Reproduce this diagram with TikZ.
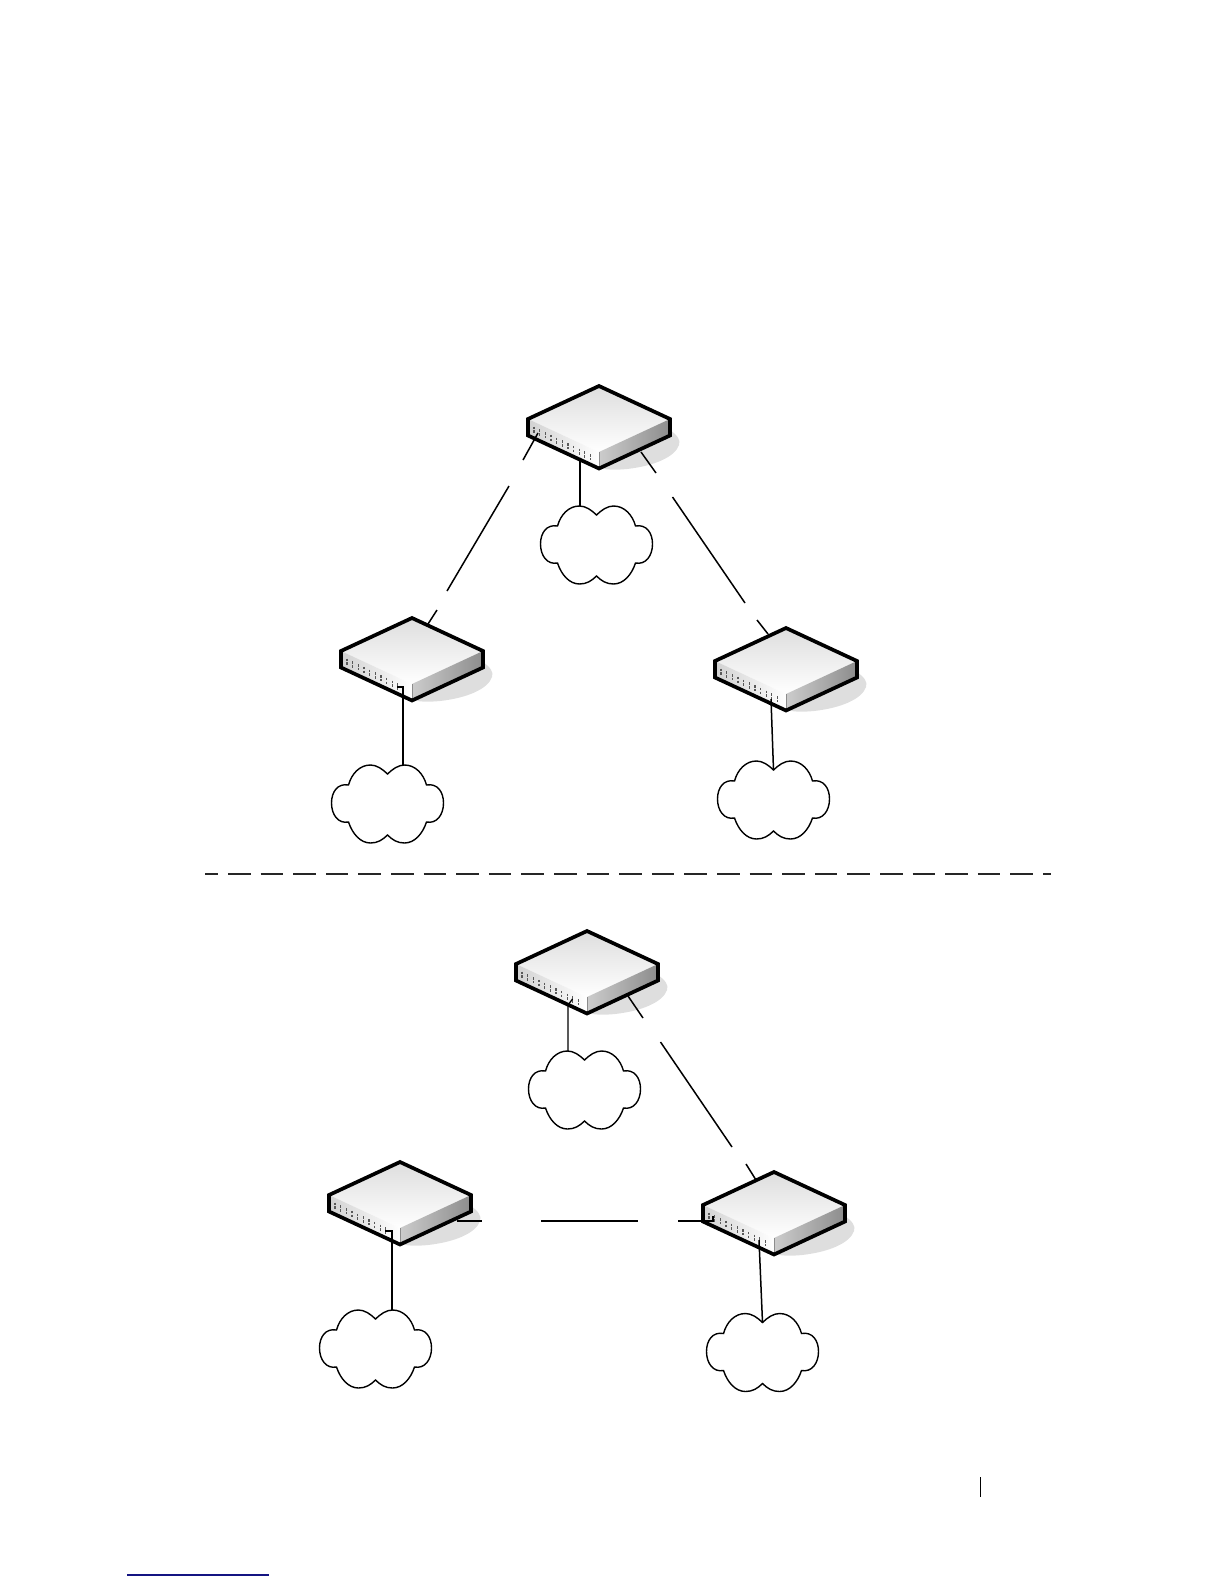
\documentclass[tikz,border=0pt]{standalone}
\begin{document}
\begin{tikzpicture}[x=1pt,y=-1pt,
  link/.style={draw=black,line width=1.5pt},
  outline/.style={draw=black,line width=3.7pt,line join=miter},
  hookline/.style={draw=black,line width=1.3pt,line join=miter},
  cloudshape/.style={draw=black,line width=1.4pt,fill=white},
  divider/.style={draw=black!85,line width=1.7pt,dash pattern=on 22.6pt off 10pt,dash phase=9.6pt},
  pagelink/.style={draw={rgb,255:red,20;green,20;blue,130},line width=1.3pt},
  pagebar/.style={draw=black,line width=1pt},
  portmark/.style={draw=black!65,line width=1.2pt}]
\newcommand{\switchbox}[3]{%
  \begin{scope}[shift={(#2,#3)}]
    \coordinate (#1) at (0,0);
    \fill[black!13] (71,45) .. controls (78,50) and (82,55) .. (80,60)
       .. controls (76,72) and (55,81) .. (28,84) .. controls (18,85) and (8,85) .. (0,83) -- cycle;
    \shade[top color=black!13,bottom color=white] (0,1) -- (-71,34) -- (0,67) -- (71,34) -- cycle;
    \shade[left color=black!20,middle color=black!30,right color=black!45] (0,67) -- (71,34) -- (71,50) -- (0,83) -- cycle;
    \shade[left color=black!18,right color=white] (-71,34) -- (0,67) -- (0,83) -- (-71,50) -- cycle;
    \foreach \k in {0,...,10} {
      \draw[portmark] ({-65+5.65*\k},{41.5+2.75*\k}) -- ++(0,2.6) ++(0,1.2) -- ++(0,2.6);
    }
    \draw[black!45,line width=1pt] (0,67) -- (0,83);
    \draw[outline] (0,1) -- (71,34) -- (71,50.5) -- (0,83.5) -- (-71,50.5) -- (-71,34) -- cycle;
  \end{scope}}
\newcommand{\netcloud}[3]{%
  \begin{scope}[shift={(#2,#3)}]
    \coordinate (#1) at (0,0);
    \coordinate (#1l) at (-17,-39);
    \coordinate (#1r) at (17,-39);
    \coordinate (#1n) at (0,-30);
    \path[cloudshape] (0,-30) .. controls (-5,-35) and (-11,-39) .. (-17,-39)
      .. controls (-28,-39) and (-36,-30) .. (-39,-19)
      .. controls (-50,-21) and (-56,-12) .. (-56,-1)
      .. controls (-56,11) and (-49,20) .. (-39,18)
      .. controls (-35,30) and (-27,39) .. (-17,39)
      .. controls (-10,39) and (-5,36) .. (0,31)
      .. controls (5,36) and (10,39) .. (17,39)
      .. controls (27,39) and (35,30) .. (39,18)
      .. controls (49,20) and (56,11) .. (56,-1)
      .. controls (56,-12) and (50,-21) .. (39,-19)
      .. controls (36,-30) and (28,-39) .. (17,-39)
      .. controls (11,-39) and (5,-35) .. (0,-30) -- cycle;
  \end{scope}}
\path[use as bounding box] (0,0) rectangle (1224,1584);
% upper group
\switchbox{sa}{599}{385}
\switchbox{sb}{412}{617}
\switchbox{sc}{786}{627}
\netcloud{ca}{596.5}{545}
\netcloud{cb}{387.5}{804}
\netcloud{cc}{773.5}{800}
% lower group
\switchbox{sd}{587}{930}
\switchbox{se}{400}{1161}
\switchbox{sf}{774}{1171}
\netcloud{cd}{584.5}{1090}
\netcloud{ce}{375.5}{1349}
\netcloud{cf}{762.5}{1352.5}
% connector points
\coordinate (a1) at (538,433); \coordinate (a2) at (523,460);
\coordinate (a3) at (509,486); \coordinate (a4) at (447,591);
\coordinate (a5) at (437,610); \coordinate (a6) at (428,624);
\coordinate (b1) at (641,452); \coordinate (b2) at (656,473);
\coordinate (b3) at (672.5,497); \coordinate (b4) at (745,603);
\coordinate (b5) at (757,620); \coordinate (b6) at (768,634);
\coordinate (d1) at (628,996); \coordinate (d2) at (643,1018);
\coordinate (d3) at (660.5,1042); \coordinate (d4) at (732,1147);
\coordinate (d5) at (746,1164); \coordinate (d6) at (756,1180);
\coordinate (e1) at (457,1221); \coordinate (e2) at (482,1221);
\coordinate (e3) at (541,1221); \coordinate (e4) at (638,1221);
\coordinate (e5) at (678,1221); \coordinate (e6) at (713,1221); \coordinate (e7) at (713,1216);
\coordinate (pa) at (580,458);
\coordinate (pb) at (397,687); \coordinate (pbb) at (403,687);
\coordinate (pc) at (771,699);
\coordinate (pd) at (572.5,999); \coordinate (pdb) at (568,1005);
\coordinate (pe) at (385,1231); \coordinate (peb) at (392,1231);
\coordinate (pf) at (759,1240);
% connectors
\draw[link] (a1) -- (a2); \draw[link] (a3) -- (a4); \draw[link] (a5) -- (a6);
\draw[link] (b1) -- (b2); \draw[link] (b3) -- (b4); \draw[link] (b5) -- (b6);
\draw[link] (d1) -- (d2); \draw[link] (d3) -- (d4); \draw[link] (d5) -- (d6);
\draw[link] (e1) -- (e2); \draw[link] (e3) -- (e4);
\draw[hookline] (e5) -- (e6) -- (e7);
\draw[link] (pa) -- (pa |- cal);
\draw[hookline] (pb) -- (pbb) -- (pbb |- cbr);
\draw[link] (pc) -- (ccn);
\draw[hookline] (pd) -- (pdb) -- (pdb |- cdl);
\draw[hookline] (pe) -- (peb) -- (peb |- cer);
\draw[link] (pf) -- (cfn);
% divider and page furniture
\coordinate (dv1) at (205,874); \coordinate (dv2) at (1051,874);
\draw[divider] (dv1) -- (dv2);
\coordinate (pl1) at (127,1575); \coordinate (pl2) at (269,1575);
\draw[pagelink] (pl1) -- (pl2);
\coordinate (pb1) at (980,1477); \coordinate (pb2) at (980,1497);
\draw[pagebar] (pb1) -- (pb2);
\end{tikzpicture}
\end{document}
